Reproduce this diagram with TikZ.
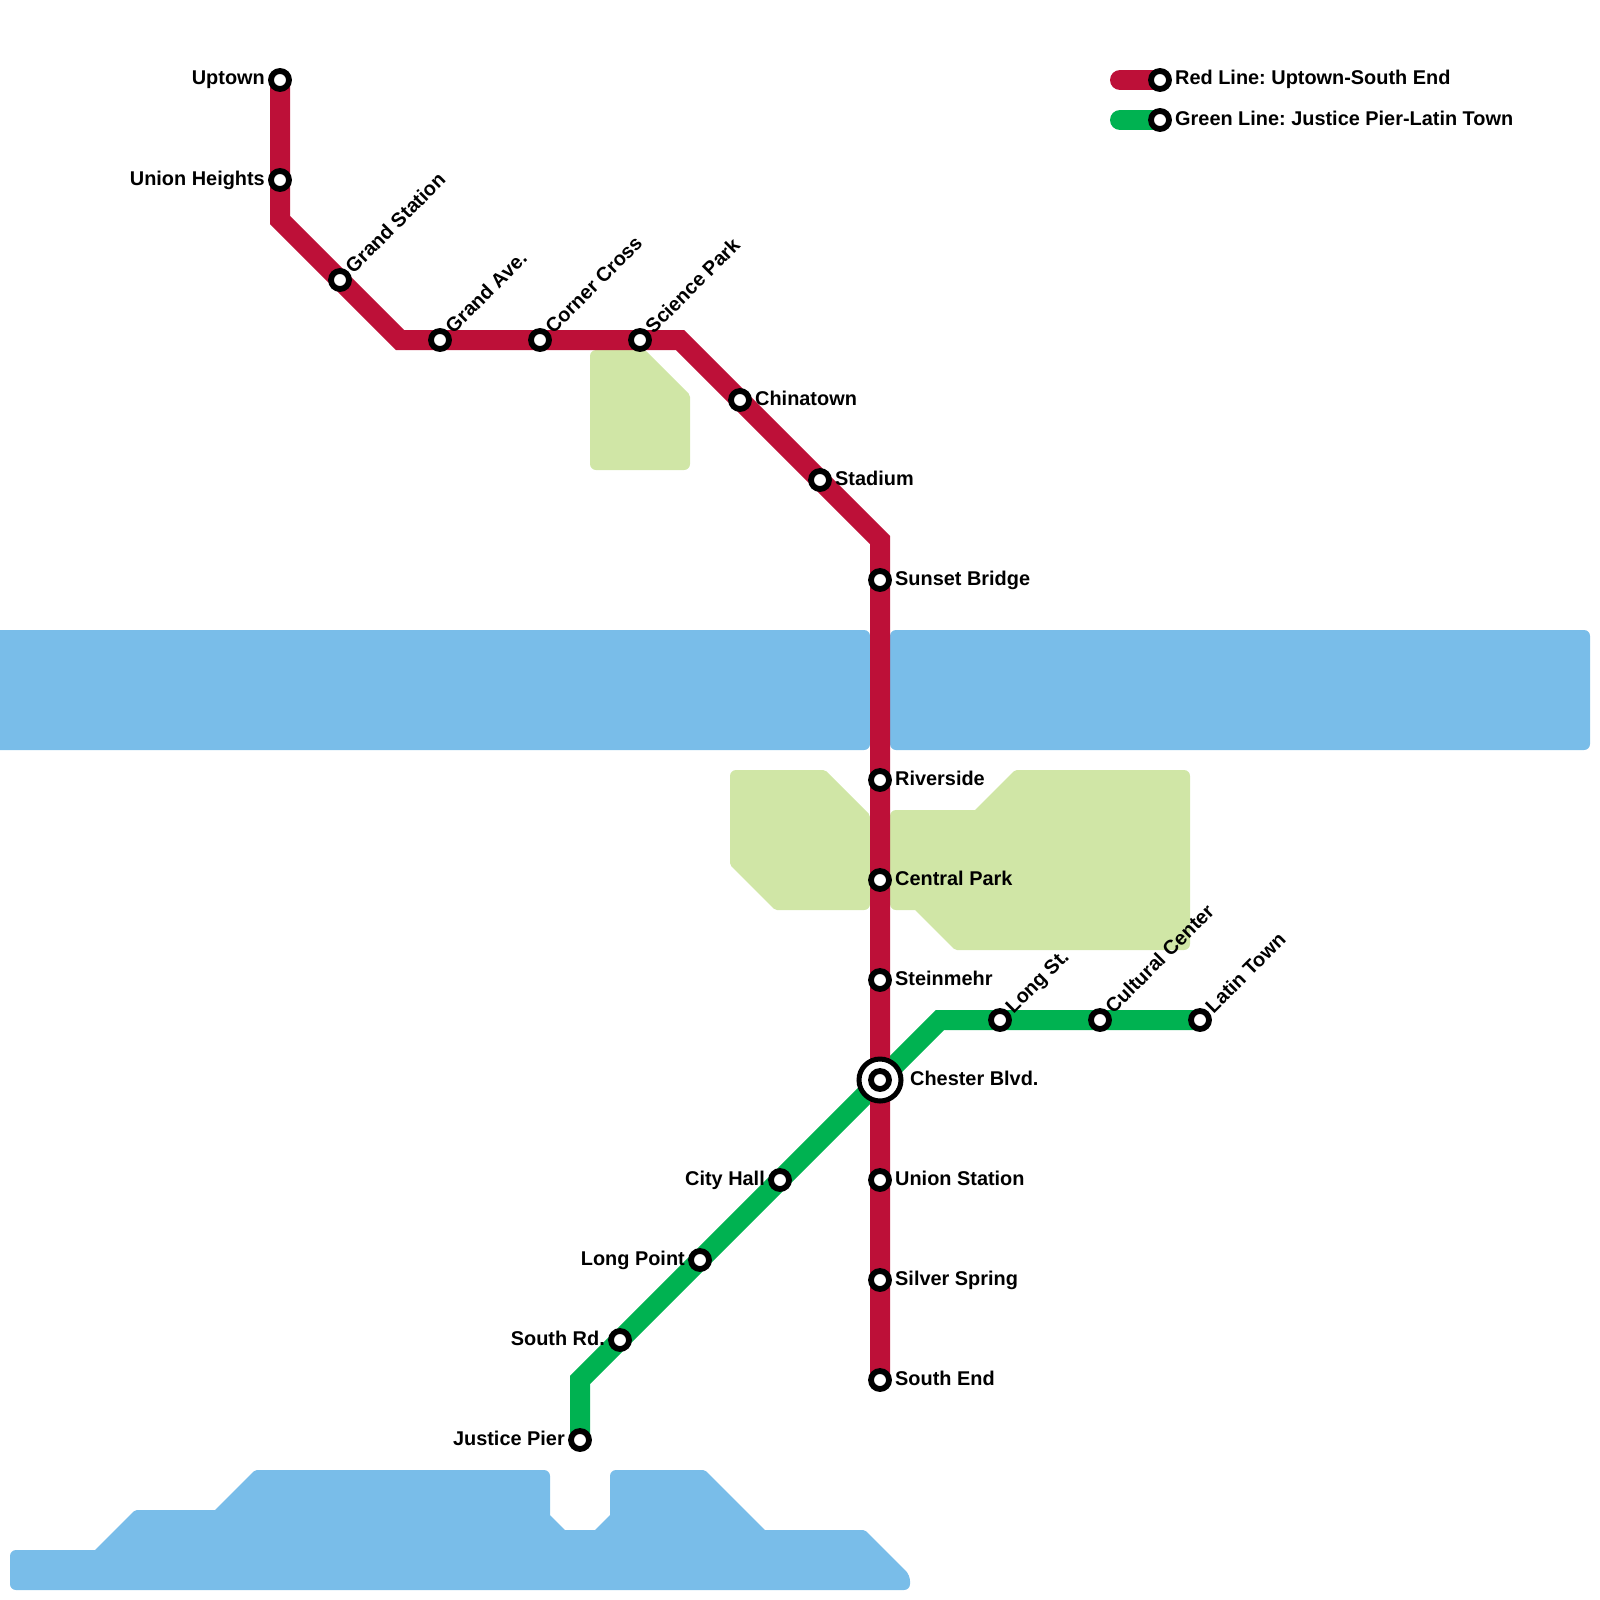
\documentclass[tikz,border=0pt]{standalone}
\usepackage{fontspec}
\setmainfont{Liberation Sans}
\usetikzlibrary{backgrounds, positioning}

\definecolor{redline}{HTML}{BD1038}
\definecolor{greenline}{HTML}{00B251}
\definecolor{riverblue}{HTML}{79BDE9}
\definecolor{parkgreen}{HTML}{D0E6A6}

\begin{document}
\frenchspacing
\begin{tikzpicture}[
    x=1pt, y=-1pt,
    station/.style={
        circle,
        draw=black,
        fill=white,
        line width=5.8pt,
        minimum size=18pt,
        inner sep=0pt,
        outer sep=0pt
    },
    interchange/.style={
        circle,
        draw=black,
        fill=white,
        line width=5pt,
        minimum size=42pt,
        inner sep=0pt,
        outer sep=0pt
    },
    stationname/.style={
        inner sep=0pt,
        font=\bfseries\fontsize{19.9}{24}\selectfont
    },
    nameright/.style={stationname, anchor=base west, xshift=15pt, yshift=-5pt},
    nameleft/.style={stationname, anchor=base east, xshift=-15pt, yshift=-5pt},
    namediag/.style={stationname, anchor=base west, xshift=13.5pt, yshift=5.5pt, rotate=45},
    redtrack/.style={draw=redline, line width=20pt},
    greentrack/.style={draw=greenline, line width=20pt},
    legendtrack/.style={line width=20pt, line cap=round},
    river/.style={fill=riverblue, rounded corners=6pt},
    park/.style={fill=parkgreen, rounded corners=6pt}
]
    \useasboundingbox (0,0) rectangle (1600,1600);

    % red line
    \node[station] (uptown) at (280,80) {};
    \node[station] (unionheights) at (280,180) {};
    \node[station] (grandstation) at (340,280) {};
    \node[station] (grandave) at (440,340) {};
    \node[station] (cornercross) at (540,340) {};
    \node[station] (sciencepark) at (640,340) {};
    \node[station] (chinatown) at (740,400) {};
    \node[station] (stadium) at (820,480) {};
    \node[station] (sunsetbridge) at (880,580) {};
    \node[station] (riverside) at (880,780) {};
    \node[station] (centralpark) at (880,880) {};
    \node[station] (steinmehr) at (880,980) {};
    \node[interchange] (chesterring) at (880,1080) {};
    \node[station] (chester) at (880,1080) {};
    \node[station] (unionstation) at (880,1180) {};
    \node[station] (silverspring) at (880,1280) {};
    \node[station] (southend) at (880,1380) {};

    % green line
    \node[station] (justicepier) at (580,1440) {};
    \node[station] (southrd) at (620,1340) {};
    \node[station] (longpoint) at (700,1260) {};
    \node[station] (cityhall) at (780,1180) {};
    \node[station] (longst) at (1000,1020) {};
    \node[station] (culturalcenter) at (1100,1020) {};
    \node[station] (latintown) at (1200,1020) {};

    % legend
    \node[station] (legendred) at (1160,80) {};
    \node[station] (legendgreen) at (1160,120) {};
    \coordinate (legendredend) at (1120,80);
    \coordinate (legendgreenend) at (1120,120);

    % bends
    \coordinate (redbenda) at (280,220);
    \coordinate (redbendb) at (400,340);
    \coordinate (redbendc) at (680,340);
    \coordinate (redbendd) at (880,540);
    \coordinate (greenbenda) at (580,1380);
    \coordinate (greenbendb) at (940,1020);

    % names
    \node[nameleft] (uptownname) at (uptown) {Uptown};
    \node[nameleft] (unionheightsname) at (unionheights) {Union Heights};
    \node[namediag] (grandstationname) at (grandstation) {Grand Station};
    \node[namediag] (grandavename) at (grandave) {Grand Ave.};
    \node[namediag] (cornercrossname) at (cornercross) {Corner Cross};
    \node[namediag] (scienceparkname) at (sciencepark) {Science Park};
    \node[nameright] (chinatownname) at (chinatown) {Chinatown};
    \node[nameright] (stadiumname) at (stadium) {Stadium};
    \node[nameright] (sunsetbridgename) at (sunsetbridge) {Sunset Bridge};
    \node[nameright] (riversidename) at (riverside) {Riverside};
    \node[nameright] (centralparkname) at (centralpark) {Central Park};
    \node[nameright] (steinmehrname) at (steinmehr) {Steinmehr};
    \node[nameright, xshift=15pt] (chestername) at (chester) {Chester Blvd.};
    \node[nameright] (unionstationname) at (unionstation) {Union Station};
    \node[nameright] (silverspringname) at (silverspring) {Silver Spring};
    \node[nameright] (southendname) at (southend) {South End};
    \node[nameleft] (justicepiername) at (justicepier) {Justice Pier};
    \node[nameleft] (southrdname) at (southrd) {South Rd.};
    \node[nameleft] (longpointname) at (longpoint) {Long Point};
    \node[nameleft] (cityhallname) at (cityhall) {City Hall};
    \node[namediag] (longstname) at (longst) {Long St.};
    \node[namediag] (culturalcentername) at (culturalcenter) {Cultural Center};
    \node[namediag] (latintownname) at (latintown) {Latin Town};
    \node[nameright] (legendredname) at (legendred) {Red Line: Uptown-South End};
    \node[nameright] (legendgreenname) at (legendgreen) {Green Line: Justice Pier-Latin Town};

    \begin{pgfonlayer}{background}
        % water
        \path[river] (-10,630) -- (870,630) -- (870,750) -- (-10,750) -- cycle;
        \path[river] (890,630) -- (1590,630) -- (1590,750) -- (890,750) -- cycle;
        \path[river] (10,1550) [sharp corners] -- (95,1550) [rounded corners=2pt] -- (135,1510)
            [sharp corners] -- (215,1510) [rounded corners=2pt] -- (255,1470)
            [rounded corners=6pt] -- (550,1470) [sharp corners] -- (550,1515) -- (565,1530)
            -- (595,1530) -- (610,1515) [rounded corners=6pt] -- (610,1470)
            [rounded corners=2pt] -- (705,1470) [sharp corners] -- (765,1530)
            [rounded corners=2pt] -- (865,1530) [rounded corners=6pt] -- (910,1575)
            -- (910,1590) -- (10,1590) -- cycle;

        % parks
        \path[park] (590,350) [rounded corners=2pt] -- (645,350) -- (690,395)
            [rounded corners=6pt] -- (690,470) -- (590,470) -- cycle;
        \path[park] (730,770) [rounded corners=2pt] -- (825,770) -- (870,815)
            [rounded corners=6pt] -- (870,910) [rounded corners=2pt] -- (775,910) -- (730,865)
            [rounded corners=6pt] -- cycle;
        \path[park] (890,810) [sharp corners] -- (975,810) [rounded corners=2pt] -- (1015,770)
            [rounded corners=6pt] -- (1190,770) -- (1190,950) [rounded corners=2pt] -- (955,950)
            [sharp corners] -- (915,910) [rounded corners=6pt] -- (890,910) -- cycle;

        % tracks
        \draw[greentrack] (justicepier.center) -- (greenbenda) -- (southrd.center) -- (longpoint.center)
            -- (cityhall.center) -- (chester.center) -- (greenbendb) -- (longst.center)
            -- (culturalcenter.center) -- (latintown.center);
        \draw[redtrack] (uptown.center) -- (unionheights.center) -- (redbenda) -- (grandstation.center)
            -- (redbendb) -- (grandave.center) -- (cornercross.center) -- (sciencepark.center)
            -- (redbendc) -- (chinatown.center) -- (stadium.center) -- (redbendd)
            -- (sunsetbridge.center) -- (riverside.center) -- (centralpark.center) -- (steinmehr.center)
            -- (chester.center) -- (unionstation.center) -- (silverspring.center) -- (southend.center);
        \draw[legendtrack, draw=redline] (legendredend) -- (legendred.center);
        \draw[legendtrack, draw=greenline] (legendgreenend) -- (legendgreen.center);
    \end{pgfonlayer}
\end{tikzpicture}
\end{document}
